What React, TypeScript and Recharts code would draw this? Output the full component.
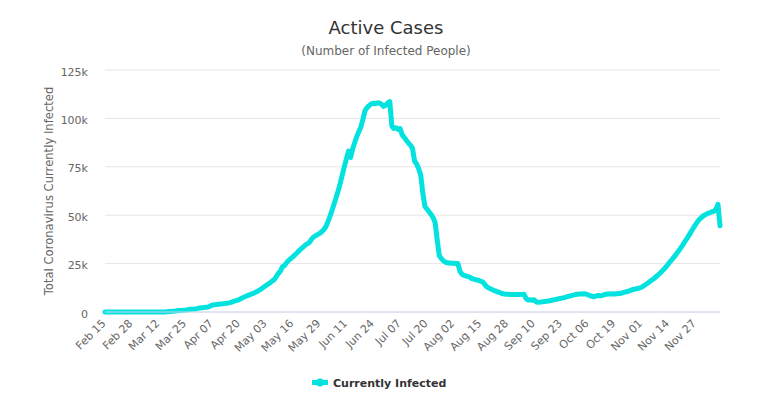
import React from 'react';
import { LineChart, Line, XAxis, YAxis, CartesianGrid } from 'recharts';

const MONTH_NAMES = ['Jan', 'Feb', 'Mar', 'Apr', 'May', 'Jun', 'Jul', 'Aug', 'Sep', 'Oct', 'Nov', 'Dec'];
const START_YEAR = 2020;
const START_MONTH = 1; // February (0-based)
const START_DAY = 15;

// Active (currently infected) cases, one value per day
const febValues = [0, 0, 0, 0, 0, 0, 0, 0, 0, 0, 0, 2, 2, 4, 4];
const marValues = [4, 5, 5, 5, 5, 6, 6, 6, 6, 16, 19, 20, 26, 29, 49, 180, 232, 292, 440, 478, 616, 745, 840, 928, 1012, 1148, 1389, 1461, 1485, 1591, 1878];
const aprValues = [2040, 2210, 2330, 2470, 2560, 3040, 3560, 3790, 3900, 4050, 4160, 4250, 4380, 4520, 4700, 4960, 5380, 5700, 6020, 6420, 6980, 7580, 7990, 8450, 8880, 9300, 9720, 10180, 10790, 11450];
const mayValues = [12150, 12900, 13650, 14380, 15150, 15950, 16700, 18300, 19900, 21100, 23400, 24000, 25500, 26700, 27600, 28500, 29500, 30500, 31600, 32600, 33500, 34500, 35200, 35900, 37500, 38700, 39400, 40000, 40600, 41400, 42500];
const junValues = [44000, 46600, 49400, 52500, 55800, 59100, 62600, 66600, 71000, 75200, 79200, 83100, 79800, 84200, 87500, 90600, 93200, 95600, 99600, 104000, 105600, 106600, 107500, 107800, 107600, 108000, 107900, 107200, 106200, 106800];
const julValues = [107900, 108700, 96000, 94800, 95200, 94300, 94700, 91500, 90200, 88700, 87300, 86200, 84500, 78000, 76400, 74000, 70600, 61500, 54500, 53200, 51800, 50400, 48800, 46000, 37000, 29000, 27600, 26400, 25700, 25400, 25300];
const augValues = [25200, 25200, 25100, 25000, 21000, 19500, 18900, 18600, 18300, 17800, 17200, 16900, 16600, 16300, 15900, 15600, 14200, 13000, 12400, 11900, 11400, 10900, 10500, 10100, 9700, 9400, 9200, 9200, 9100, 9100, 9100];
const sepValues = [9100, 9100, 9000, 9100, 9200, 7000, 6200, 6300, 6100, 6300, 5100, 5000, 5100, 5300, 5400, 5600, 5700, 5900, 6200, 6400, 6600, 6900, 7100, 7300, 7600, 7900, 8200, 8500, 8700, 9000];
const octValues = [9200, 9300, 9300, 9400, 9300, 8900, 8500, 8100, 7900, 8300, 8500, 8400, 8600, 9000, 9200, 9400, 9300, 9400, 9300, 9400, 9500, 9700, 10000, 10300, 10600, 10900, 11300, 11700, 11900, 12100, 12400];
const novValues = [12800, 13500, 14200, 14900, 15700, 16500, 17300, 18200, 19100, 20100, 21200, 22300, 23500, 24900, 26200, 27400, 28700, 30200, 31600, 33100, 34700, 36400, 38000, 39700, 41500, 43200, 44900, 46500, 47800, 48800];
const decValues = [49700, 50300, 50900, 51200, 51800, 52000, 53000, 55600, 44500];

const activeCases = [
  ...febValues, ...marValues, ...aprValues, ...mayValues, ...junValues, ...julValues,
  ...augValues, ...sepValues, ...octValues, ...novValues, ...decValues,
];

const yTicks = [0, 25000, 50000, 75000, 100000, 125000];

const TITLE = 'Active Cases';
const SUBTITLE = '(Number of Infected People)';
const Y_TITLE = 'Total Coronavirus Currently Infected';
const SERIES_NAME = 'Currently Infected';

function buildDates(count: number): string[] {
  const out: string[] = [];
  const d = new Date(Date.UTC(START_YEAR, START_MONTH, START_DAY));
  for (let i = 0; i < count; i++) {
    out.push(`${MONTH_NAMES[d.getUTCMonth()]} ${String(d.getUTCDate()).padStart(2, '0')}`);
    d.setUTCDate(d.getUTCDate() + 1);
  }
  return out;
}

const dates = buildDates(activeCases.length);
const data = dates.map((date, i) => ({ date, active: activeCases[i] }));

const FONT = '"DejaVu Sans", sans-serif';
const LINE_COLOR = '#03e2df';

const XTick = (props: any) => {
  const { x, y, payload } = props;
  return (
    <g transform={`translate(${x + 1.5},${y + 12})`}>
      <text
        x={0}
        y={0}
        textAnchor="end"
        transform="rotate(-45)"
        fontFamily={FONT}
        fontSize={11}
        fill="#666666"
      >
        {payload.value}
      </text>
    </g>
  );
};

const YTick = (props: any) => {
  const { x, y, payload } = props;
  const v = payload.value as number;
  const label = v === 0 ? '0' : `${v / 1000}k`;
  return (
    <text x={x - 17} y={y + 5.5} textAnchor="end" fontFamily={FONT} fontSize={11} fill="#666666">
      {label}
    </text>
  );
};

export default function App() {
  return (
    <div style={{ position: 'absolute', left: 0, top: 0, width: 768, height: 399, background: '#ffffff' }}>
      <LineChart
        width={768}
        height={399}
        data={data}
        margin={{ top: 70, right: 48, bottom: 0, left: 0 }}
      >
        <CartesianGrid horizontal={true} vertical={false} stroke="#e6e6e6" />
        <XAxis
          dataKey="date"
          interval={12}
          tickLine={false}
          tickSize={0}
          tickMargin={0}
          height={87}
          axisLine={{ stroke: '#ccd6eb' }}
          tick={<XTick />}
        />
        <YAxis
          domain={[0, 125000]}
          ticks={yTicks}
          width={105}
          axisLine={false}
          tickLine={false}
          tickSize={0}
          tickMargin={0}
          tick={<YTick />}
          allowDataOverflow={false}
        />
        <Line
          type="linear"
          dataKey="active"
          name={SERIES_NAME}
          stroke={LINE_COLOR}
          strokeWidth={5}
          dot={false}
          activeDot={false}
          strokeLinejoin="round"
          strokeLinecap="round"
          isAnimationActive={false}
        />
      </LineChart>
      <svg
        width={768}
        height={399}
        style={{ position: 'absolute', left: 0, top: 0, pointerEvents: 'none' }}
      >
        <text x={386} y={34} textAnchor="middle" fontFamily={FONT} fontSize={18} fill="#333333">
          {TITLE}
        </text>
        <text x={386} y={54.5} textAnchor="middle" fontFamily={FONT} fontSize={12} fill="#666666">
          {SUBTITLE}
        </text>
        <text
          x={0}
          y={0}
          transform="translate(52.5,191) rotate(-90)"
          textAnchor="middle"
          fontFamily={FONT}
          fontSize={11.6}
          fill="#666666"
        >
          {Y_TITLE}
        </text>
        <line x1={312} y1={382.5} x2={328} y2={382.5} stroke={LINE_COLOR} strokeWidth={5} />
        <circle cx={320} cy={382.5} r={4} fill={LINE_COLOR} />
        <text x={333} y={386.5} fontFamily={FONT} fontSize={11} fontWeight="bold" fill="#333333">
          {SERIES_NAME}
        </text>
      </svg>
    </div>
  );
}
